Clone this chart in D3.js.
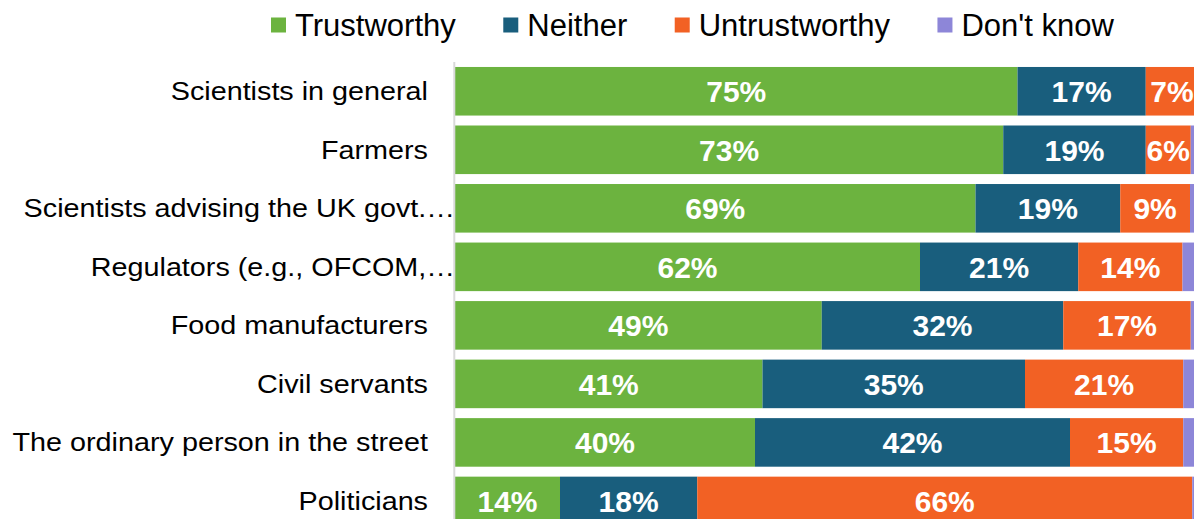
<!DOCTYPE html>
<html>
<head>
<meta charset="utf-8">
<script src="https://cdn.jsdelivr.net/npm/d3@7"></script>
<style>
	body { margin: 0; background: #fff; overflow: hidden; }
	svg { display: block; font-family: Arial, "Liberation Sans", sans-serif; }
</style>
</head>
<body>
<svg id="chart" width="1194" height="519"></svg>
<script>
var categories = [
	'Scientists in general',
	'Farmers',
	'Scientists advising the UK govt.\u2026',
	'Regulators (e.g., OFCOM,\u2026',
	'Food manufacturers',
	'Civil servants',
	'The ordinary person in the street',
	'Politicians'
];
var seriesNames = ['Trustworthy', 'Neither', 'Untrustworthy', "Don't know"];
var seriesColors = ['#6cb33f', '#195e7d', '#f26124', '#8d86d8'];

// values (percent)
var trustworthy = [75.0, 73.1, 69.4, 62.0, 48.9, 41.0, 40.0, 14.0];
var neither = [17.1, 19.0, 19.3, 21.1, 32.2, 35.0, 42.0, 18.3];
var untrustworthy = [7.0, 6.0, 9.3, 13.9, 17.0, 21.1, 15.1, 66.0];
var dontKnow = [0.9, 1.9, 2.0, 3.0, 1.9, 2.9, 2.9, 1.7];

var svg = d3.select('#chart');

var x = d3.scaleLinear().domain([0, 100]).range([455, 1205]);
var y = d3.scaleBand().domain(categories).range([62, 530.2])
	.paddingInner(0.17).paddingOuter(0.085);

var rows = categories.map(function (c, i) {
	return {
		cat: c,
		Trustworthy: trustworthy[i],
		Neither: neither[i],
		Untrustworthy: untrustworthy[i],
		"Don't know": dontKnow[i]
	};
});

var stacked = d3.stack().keys(seriesNames)(rows);

var layers = svg.append('g').selectAll('g.layer')
	.data(stacked)
	.enter().append('g')
	.attr('class', 'layer')
	.attr('fill', function (d, i) { return seriesColors[i]; });

layers.selectAll('rect')
	.data(function (d) { return d; })
	.enter().append('rect')
	.attr('x', function (d) { return x(d[0]); })
	.attr('y', function (d) { return y(d.data.cat); })
	.attr('width', function (d) { return x(d[1]) - x(d[0]); })
	.attr('height', y.bandwidth());

// value labels, not for "Don't know"
layers.filter(function (d) { return d.key !== "Don't know"; })
	.selectAll('text')
	.data(function (d) { return d; })
	.enter().append('text')
	.attr('x', function (d) { return (x(d[0]) + x(d[1])) / 2; })
	.attr('y', function (d) { return y(d.data.cat) + y.bandwidth() / 2; })
	.attr('dy', '0.36em')
	.attr('text-anchor', 'middle')
	.attr('fill', '#fff')
	.style('font-weight', 'bold')
	.style('font-size', '30px')
	.text(function (d) { return Math.round(d[1] - d[0]) + '%'; });

// axis line
svg.append('line')
	.attr('x1', 454.3).attr('x2', 454.3)
	.attr('y1', 62).attr('y2', 519)
	.attr('stroke', '#d9d9d9')
	.attr('stroke-width', 2);

// category labels (stretched a bit horizontally like the original)
svg.append('g').selectAll('text')
	.data(categories)
	.enter().append('text')
	.attr('transform', function (d) {
		var tx = d.slice(-1) === '\u2026' ? 455 : 428;
		return 'translate(' + tx + ',' + (y(d) + y.bandwidth() / 2 + 9) + ') scale(1.15,1)';
	})
	.attr('text-anchor', 'end')
	.attr('fill', '#000')
	.style('font-size', '25px')
	.text(function (d) { return d; });

// legend
var legend = svg.append('g');
var lx = 271;
seriesNames.forEach(function (name, i) {
	legend.append('rect')
		.attr('x', lx).attr('y', 17.5)
		.attr('width', 15).attr('height', 15)
		.attr('fill', seriesColors[i]);
	var t = legend.append('text')
		.attr('x', lx + 24).attr('y', 36)
		.attr('fill', '#000')
		.style('font-size', '31px')
		.text(name);
	lx = lx + 24 + t.node().getComputedTextLength() + 47.5;
});
</script>
</body>
</html>
